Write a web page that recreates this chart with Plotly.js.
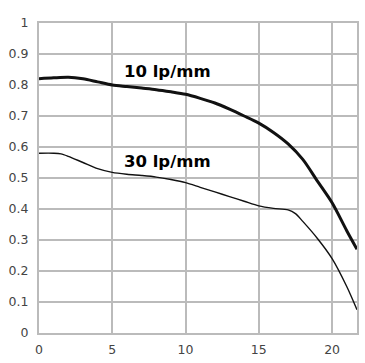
<!DOCTYPE html>
<html><head><meta charset="utf-8">
<script src="https://cdn.plot.ly/plotly-3.0.1.min.js"></script>
<style>html,body{margin:0;padding:0;background:#fff}#chart{width:365px;height:363px}</style>
</head><body><div id="chart"></div>
<script>
const x10 = [0, 1, 2, 3, 4, 5, 6, 7, 8, 9, 10, 11, 12, 13, 14, 15, 16, 17, 18, 19, 20, 21, 21.7];
const y10 = [0.82, 0.823, 0.825, 0.82, 0.81, 0.80, 0.795, 0.79, 0.785, 0.778, 0.77, 0.757, 0.742, 0.722, 0.70, 0.677, 0.647, 0.61, 0.56, 0.49, 0.42, 0.33, 0.27];
const x30 = [0, 1, 1.5, 2, 3, 4, 5, 6, 7, 8, 9, 10, 11, 12, 13, 14, 15, 16, 17, 17.5, 18, 19, 20, 21, 21.7];
const y30 = [0.58, 0.58, 0.578, 0.57, 0.55, 0.53, 0.518, 0.512, 0.508, 0.503, 0.495, 0.485, 0.47, 0.455, 0.44, 0.425, 0.41, 0.402, 0.397, 0.385, 0.36, 0.305, 0.24, 0.15, 0.075];
const labels = ["10 lp/mm", "30 lp/mm"];
const labelPos = [[5.65, 0.845], [5.65, 0.552]];
const xTicks = [0, 5, 10, 15, 20];
const yTicks = [0, 0.1, 0.2, 0.3, 0.4, 0.5, 0.6, 0.7, 0.8, 0.9, 1];

const traces = [
  {x: x10, y: y10, mode: 'lines', line: {color: '#111', width: 3, shape: 'spline', smoothing: 0.8}, hoverinfo: 'skip'},
  {x: x30, y: y30, mode: 'lines', line: {color: '#111', width: 1.4, shape: 'spline', smoothing: 0.8}, hoverinfo: 'skip'}
];
const tickFont = {family: 'DejaVu Sans', size: 12.5, color: '#444'};
const layout = {
  width: 365, height: 363,
  margin: {l: 39, r: 8, t: 23, b: 30},
  paper_bgcolor: '#fff', plot_bgcolor: '#fff',
  showlegend: false,
  xaxis: {range: [0, 21.7], tickvals: xTicks, ticktext: xTicks.map(String), showgrid: true, gridcolor: '#bbbbbb', gridwidth: 2,
          zeroline: false, showline: true, linecolor: '#bbbbbb', linewidth: 2, mirror: true, ticks: '', tickfont: tickFont, ticklabelstandoff: 4},
  yaxis: {range: [0, 1], tickvals: yTicks, ticktext: yTicks.map(String), showgrid: true, gridcolor: '#bbbbbb', gridwidth: 2,
          zeroline: false, showline: true, linecolor: '#bbbbbb', linewidth: 2, mirror: true, ticks: '', tickfont: tickFont, ticklabelstandoff: 6},
  annotations: labels.map((t, i) => ({x: labelPos[i][0], y: labelPos[i][1], xref: 'x', yref: 'y', text: t, showarrow: false,
    xanchor: 'left', yanchor: 'middle', font: {family: 'DejaVu Sans', size: 16.5, color: '#000', weight: 'bold'}}))
};
Plotly.newPlot('chart', traces, layout, {staticPlot: true, displayModeBar: false});
</script></body></html>
